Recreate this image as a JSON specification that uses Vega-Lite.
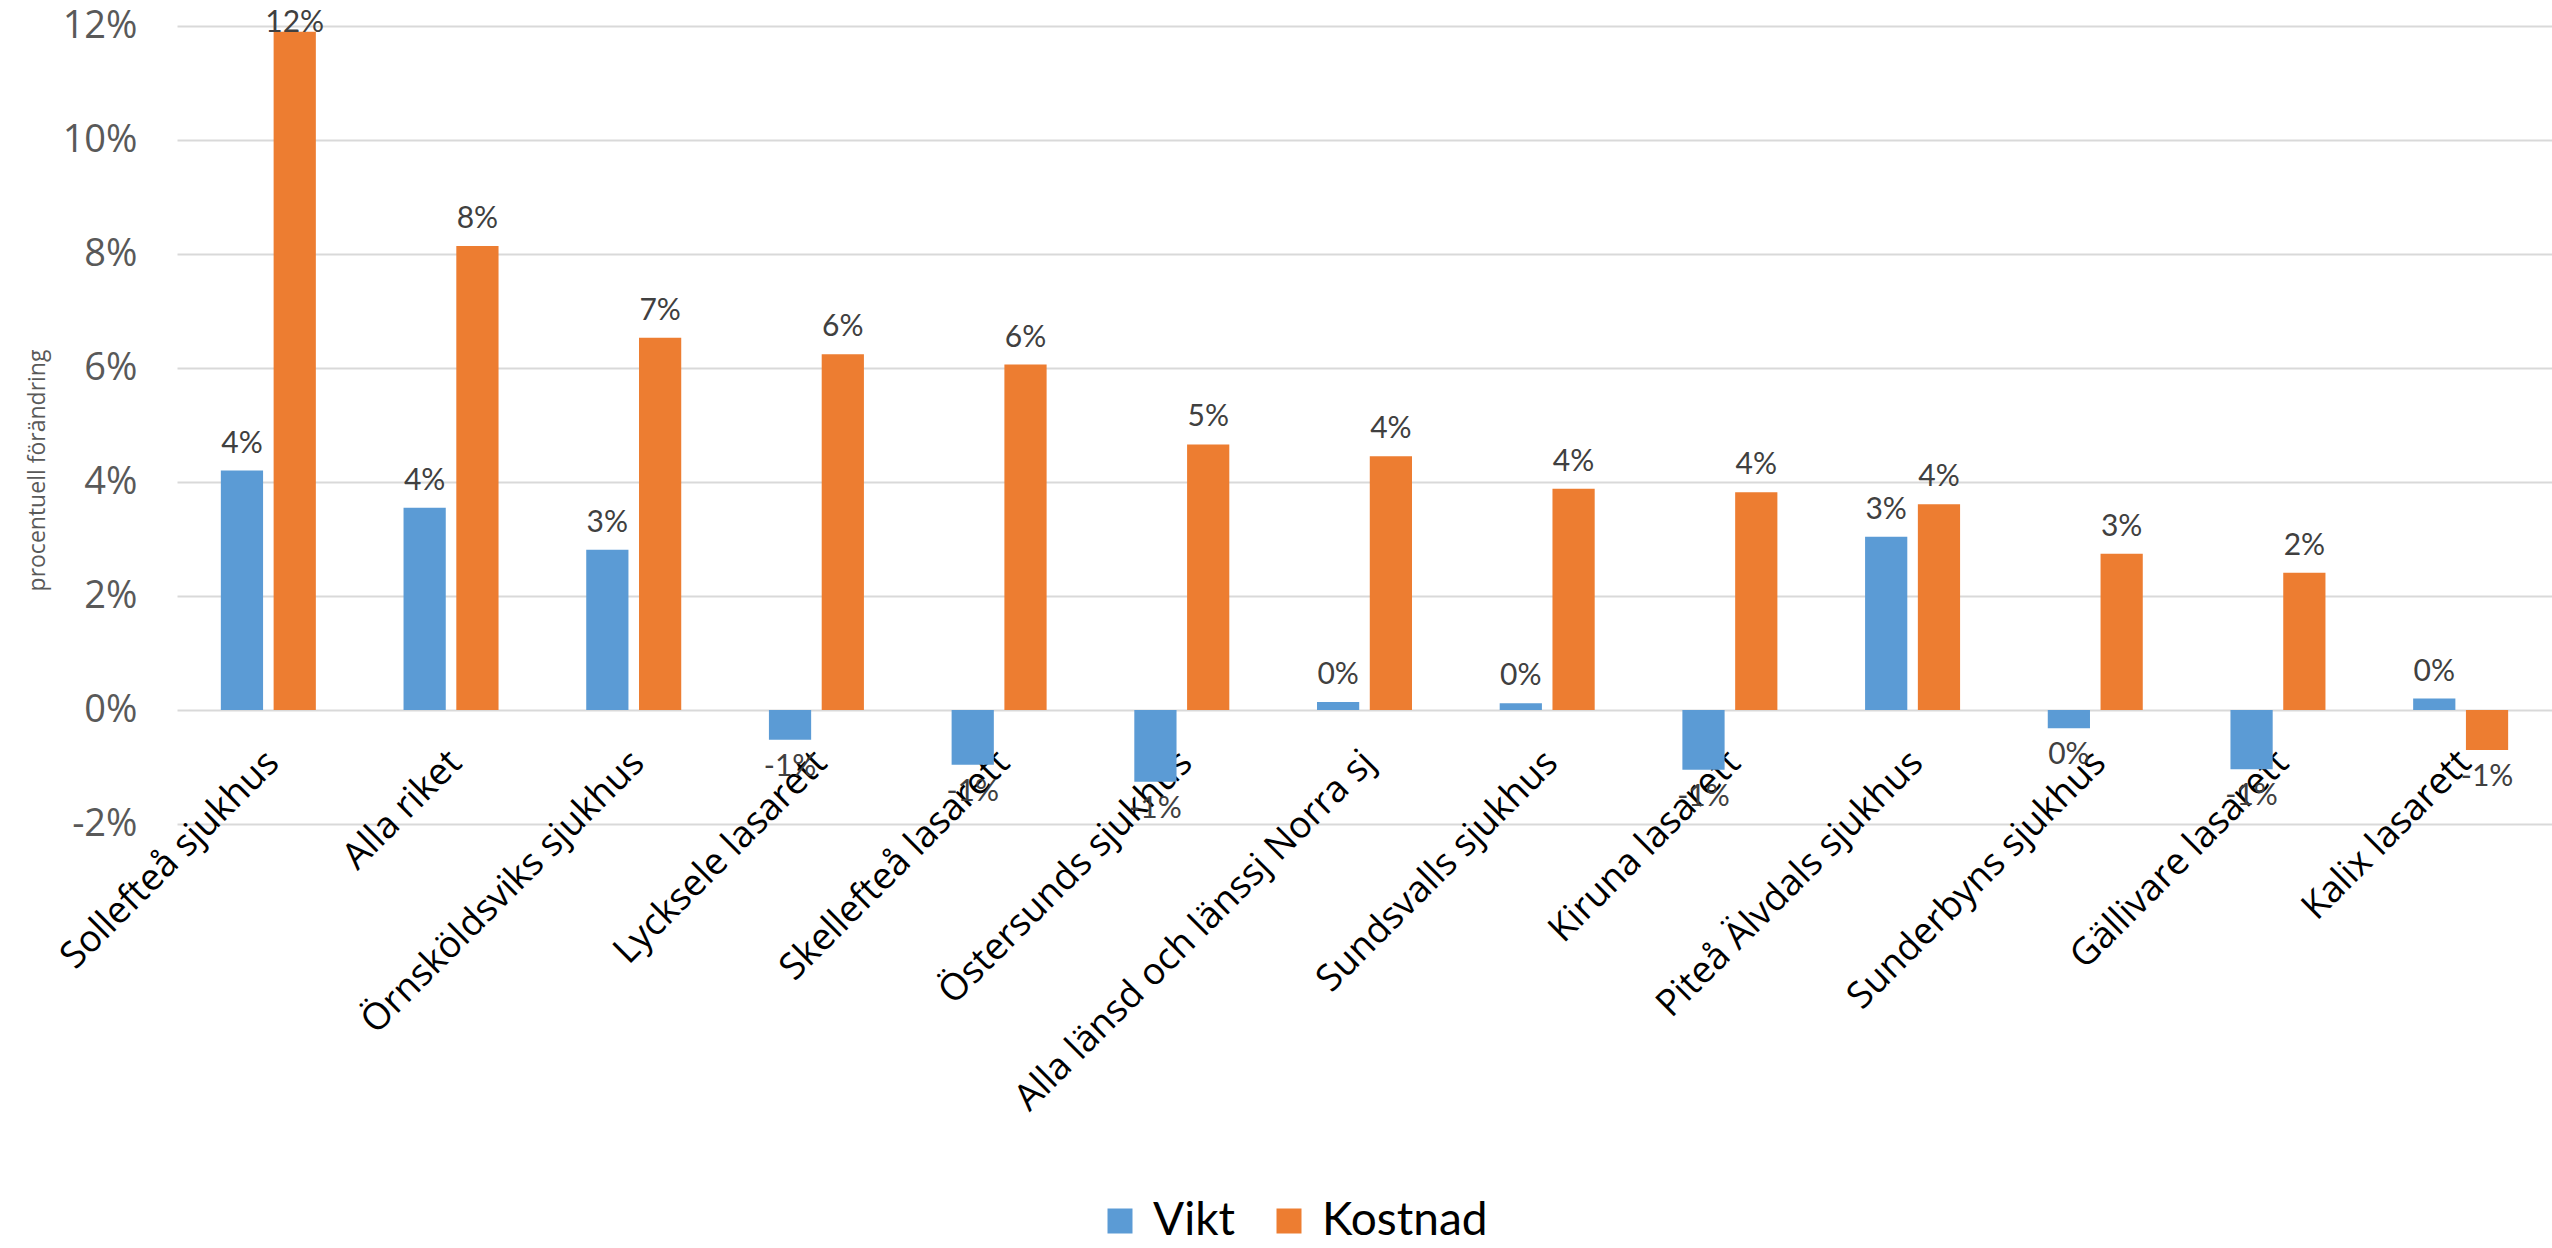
{
  "$schema": "https://vega.github.io/schema/vega-lite/v6.json",
  "width": 2375,
  "height": 798,
  "autosize": {"type": "none"},
  "padding": {"left": 177, "top": 26, "right": 0, "bottom": 424},
  "background": "#ffffff",
  "config": {"view": {"stroke": null}},
  "data": {"values": [
    {"sjukhus": "Sollefteå sjukhus", "serie": "Vikt", "v": 0.042},
    {"sjukhus": "Sollefteå sjukhus", "serie": "Kostnad", "v": 0.119},
    {"sjukhus": "Alla riket", "serie": "Vikt", "v": 0.0355},
    {"sjukhus": "Alla riket", "serie": "Kostnad", "v": 0.0814},
    {"sjukhus": "Örnsköldsviks sjukhus", "serie": "Vikt", "v": 0.0281},
    {"sjukhus": "Örnsköldsviks sjukhus", "serie": "Kostnad", "v": 0.0653},
    {"sjukhus": "Lycksele lasarett", "serie": "Vikt", "v": -0.0052},
    {"sjukhus": "Lycksele lasarett", "serie": "Kostnad", "v": 0.0624},
    {"sjukhus": "Skellefteå lasarett", "serie": "Vikt", "v": -0.0096},
    {"sjukhus": "Skellefteå lasarett", "serie": "Kostnad", "v": 0.0606},
    {"sjukhus": "Östersunds sjukhus", "serie": "Vikt", "v": -0.0126},
    {"sjukhus": "Östersunds sjukhus", "serie": "Kostnad", "v": 0.0466},
    {"sjukhus": "Alla länsd och länssj Norra sj", "serie": "Vikt", "v": 0.0014},
    {"sjukhus": "Alla länsd och länssj Norra sj", "serie": "Kostnad", "v": 0.0445},
    {"sjukhus": "Sundsvalls sjukhus", "serie": "Vikt", "v": 0.0012},
    {"sjukhus": "Sundsvalls sjukhus", "serie": "Kostnad", "v": 0.0388},
    {"sjukhus": "Kiruna lasarett", "serie": "Vikt", "v": -0.0105},
    {"sjukhus": "Kiruna lasarett", "serie": "Kostnad", "v": 0.0382},
    {"sjukhus": "Piteå Älvdals sjukhus", "serie": "Vikt", "v": 0.0304},
    {"sjukhus": "Piteå Älvdals sjukhus", "serie": "Kostnad", "v": 0.0361},
    {"sjukhus": "Sunderbyns sjukhus", "serie": "Vikt", "v": -0.0032},
    {"sjukhus": "Sunderbyns sjukhus", "serie": "Kostnad", "v": 0.0274},
    {"sjukhus": "Gällivare lasarett", "serie": "Vikt", "v": -0.0104},
    {"sjukhus": "Gällivare lasarett", "serie": "Kostnad", "v": 0.0241},
    {"sjukhus": "Kalix lasarett", "serie": "Vikt", "v": 0.002},
    {"sjukhus": "Kalix lasarett", "serie": "Kostnad", "v": -0.007}
  ]},
  "transform": [
    {"calculate": "replace(replace(format(datum.v, '.0%'), '−', '-'), '-0%', '0%')", "as": "lbl"}
  ],
  "encoding": {
    "x": {
      "field": "sjukhus", "type": "nominal", "sort": null, "title": null,
      "scale": {"paddingInner": 0.48, "paddingOuter": 0.24},
      "axis": {
        "orient": "bottom", "offset": -114, "domain": false, "ticks": false, "grid": false,
        "labelAngle": -45, "labelAlign": "right", "labelBaseline": "top", "labelPadding": 34,
        "labelOffset": -8,
        "labelFont": "Open Sans", "labelFontSize": 37, "labelColor": "#000000", "labelLimit": 1000
      }
    },
    "xOffset": {"field": "serie", "type": "nominal", "scale": {"domain": ["Vikt", "Kostnad"], "paddingInner": 0.2, "paddingOuter": 0}},
    "y": {
      "field": "v", "type": "quantitative",
      "scale": {"domain": [-0.02, 0.12], "nice": false, "zero": false},
      "axis": {
        "values": [-0.02, 0, 0.02, 0.04, 0.06, 0.08, 0.1, 0.12],
        "format": ".0%", "labelExpr": "replace(datum.label, '−', '-')",
        "domain": false, "ticks": false, "grid": true, "gridColor": "#d9d9d9", "gridWidth": 2,
        "labelFont": "Open Sans", "labelFontSize": 38, "labelColor": "#595959", "labelPadding": 40,
        "title": "procentuell förändring", "titleFont": "Open Sans", "titleFontSize": 23,
        "titleFontWeight": "normal", "titleColor": "#595959",
        "titleAngle": -90, "titleX": -140, "titleY": 444, "titleAlign": "center", "titleBaseline": "middle"
      }
    }
  },
  "layer": [
    {
      "mark": {"type": "bar"},
      "encoding": {
        "color": {
          "field": "serie", "type": "nominal", "title": null,
          "scale": {"domain": ["Vikt", "Kostnad"], "range": ["#5b9bd5", "#ed7d31"]},
          "legend": {
            "orient": "none", "direction": "horizontal", "legendX": 920, "legendY": 1172,
            "symbolType": "square", "symbolSize": 625, "symbolStrokeWidth": 0,
            "labelFont": "Lato", "labelFontSize": 46, "labelColor": "#000000",
            "labelOffset": 10, "columnPadding": 30, "padding": 0, "labelLimit": 500
          }
        }
      }
    },
    {
      "transform": [{"filter": "datum.v >= 0"}],
      "mark": {"type": "text", "baseline": "bottom", "dy": {"expr": "datum.v > 0.11 ? 6 : -12"}, "font": "Lato", "fontSize": 30, "color": "#404040"},
      "encoding": {"text": {"field": "lbl"}}
    },
    {
      "transform": [{"filter": "datum.v < 0"}],
      "mark": {"type": "text", "baseline": "top", "dy": 12, "font": "Lato", "fontSize": 30, "color": "#404040"},
      "encoding": {"text": {"field": "lbl"}}
    }
  ]
}
